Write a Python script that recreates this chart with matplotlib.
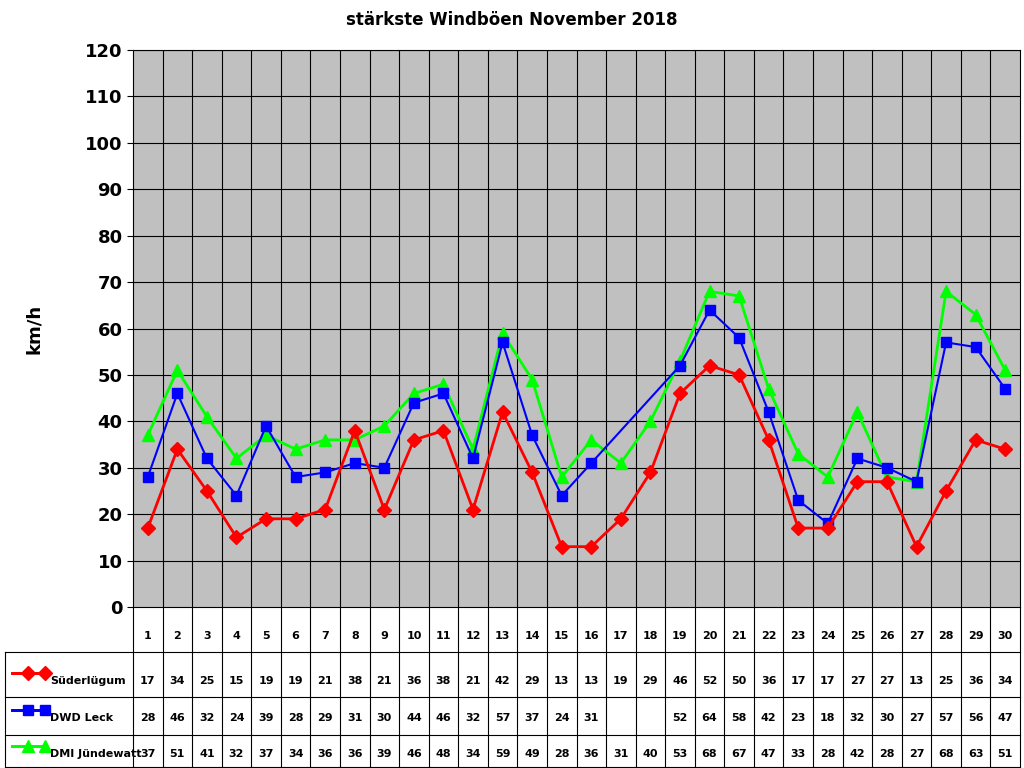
import matplotlib
matplotlib.use("Agg")
import matplotlib.pyplot as plt
import numpy as np

days = list(range(1, 31))
sueder = [17,34,25,15,19,19,21,38,21,36,38,21,42,29,13,13,19,29,46,52,50,36,17,17,27,27,13,25,36,34]
leck = [28,46,32,24,39,28,29,31,30,44,46,32,57,37,24,31,None,None,52,64,58,42,23,18,32,30,27,57,56,47]
dmi = [37,51,41,32,37,34,36,36,39,46,48,34,59,49,28,36,31,40,53,68,67,47,33,28,42,28,27,68,63,51]
names = ["Süderlügum", "DWD Leck", "DMI Jündewatt"]
colors = ["#FF0000", "#0000FF", "#00FF00"]
markers = ["D", "s", "^"]

fig = plt.figure(figsize=(10.24, 7.68), dpi=100)
W, H = 1024, 768
ax = fig.add_axes([133/W, 1-607/H, (1020-133)/W, (607-50)/H])
ax.set_facecolor("#C0C0C0")
ax.set_xlim(0.5, 30.5)
ax.set_ylim(0, 120)
ax.set_yticks(range(0, 121, 10))
ax.tick_params(axis="y", labelsize=13, length=4)
for t in ax.get_yticklabels():
    t.set_fontweight("bold")
ax.set_xticks([])
for y in range(10, 121, 10):
    ax.axhline(y, color="black", lw=0.8, zorder=1)
for x in np.arange(1.5, 30.5, 1):
    ax.axvline(x, color="black", lw=0.8, zorder=1)
ax.set_ylabel("km/h", fontsize=13, fontweight="bold", labelpad=30)
fig.text(0.5, 1-20/H, "stärkste Windböen November 2018", ha="center", va="center",
         fontsize=12, fontweight="bold")

series = [sueder, leck, dmi]
ms = [7, 7, 9]
for vals, c, m, s, n in zip(series, colors, markers, ms, names):
    xs = [d for d, v in zip(days, vals) if v is not None]
    ys = [v for v in vals if v is not None]
    ax.plot(xs, ys, color=c, marker=m, markersize=s, lw=2 if c != "#0000FF" else 1.5,
            zorder=3 + (2 - series.index(vals)))

# data table
tr = ax.get_xaxis_transform()
def fy(py):
    return 1 - py / H
row_edges = [607, 652, 697, 735, 767]
xl = 5/W
xr = 1020/W
for py in row_edges[1:]:
    fig.add_artist(plt.Line2D([xl, xr], [fy(py), fy(py)], color="black", lw=0.8))
fig.add_artist(plt.Line2D([xl, xl], [fy(652), fy(767)], color="black", lw=0.8))
fig.add_artist(plt.Line2D([133/W, 133/W], [fy(607), fy(767)], color="black", lw=0.8))
fig.add_artist(plt.Line2D([xr, xr], [fy(607), fy(767)], color="black", lw=0.8))
cw = (1020-133)/30
for i in range(1, 30):
    px = 133 + i*cw
    fig.add_artist(plt.Line2D([px/W, px/W], [fy(607), fy(767)], color="black", lw=0.8))
text_y = [636, 681, 718, 754]
for d in days:
    px = (133 + (d-0.5)*cw)/W
    fig.text(px, fy(text_y[0]), str(d), ha="center", va="center", fontsize=8, fontweight="bold")
    for r, vals in enumerate(series):
        v = vals[d-1]
        if v is not None:
            fig.text(px, fy(text_y[r+1]), str(v), ha="center", va="center", fontsize=8, fontweight="bold")
for r, (n, c, m, s) in enumerate(zip(names, colors, markers, ms)):
    yy = fy(text_y[r+1] - 8)
    fig.add_artist(plt.Line2D([12/W, 45/W], [yy, yy], color=c, lw=2, marker=m,
                              markersize=s, markevery=[1], ))
    fig.add_artist(plt.Line2D([12/W, 28/W, 45/W], [yy, yy, yy], color=c, lw=2, marker=m,
                              markersize=s, markevery=[1]))
    fig.text(50/W, fy(text_y[r+1]), n, ha="left", va="center", fontsize=8, fontweight="bold")

fig.savefig("out.png", dpi=100)
